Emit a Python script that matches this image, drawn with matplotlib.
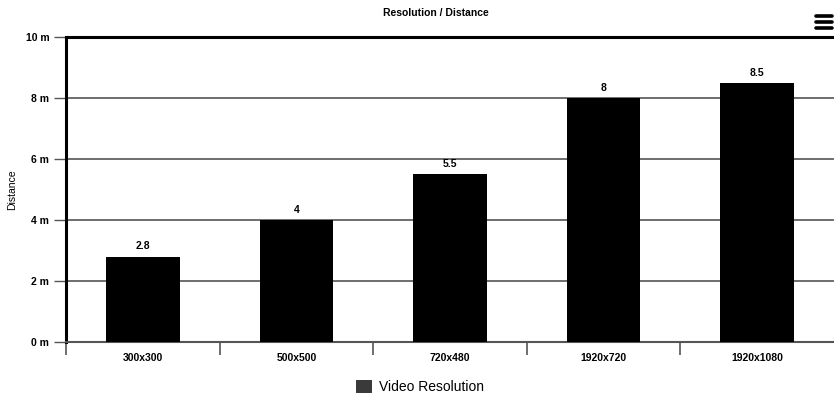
"""bar chart of viewing distance per video resolution"""

import matplotlib
matplotlib.use('Agg')
import matplotlib.pyplot as plt
from matplotlib.lines import Line2D
from matplotlib.patches import Patch

resolutions = ['300x300', '500x500', '720x480', '1920x720', '1920x1080']
distances = [2.8, 4, 5.5, 8, 8.5]
y_ticks = [0, 2, 4, 6, 8, 10]

plt.rcParams['font.family'] = ['Liberation Sans', 'DejaVu Sans']

fig = plt.figure(figsize=(8.34, 3.95), dpi=100)
ax = fig.add_axes([66 / 834, 1 - 342 / 395, 768 / 834, 305 / 395])

positions = range(len(resolutions))
ax.bar(positions, distances, width=0.48, color='black', zorder=3)
for pos, val in zip(positions, distances):
    ax.text(pos, val + 0.17, f'{val:g}', ha='center', va='bottom',
            fontsize=7.5, fontweight='bold', zorder=4)

ax.set_xlim(-0.5, len(resolutions) - 0.5)
ax.set_ylim(0, 10)
ax.set_yticks(y_ticks)
ax.set_yticklabels([f'{t} m' for t in y_ticks], fontsize=7.5, fontweight='bold')
ax.yaxis.grid(True, color='#555555', linewidth=1.2, zorder=1)
ax.tick_params(axis='y', length=9, width=1, color='#555555', pad=3)

ax.set_xticks(list(positions))
ax.set_xticklabels(resolutions, fontsize=7.5, fontweight='bold')
ax.tick_params(axis='x', length=0, pad=8)
ax.set_xticks([i - 0.5 for i in range(len(resolutions))], minor=True)
ax.tick_params(axis='x', which='minor', length=9, width=1.2, color='#555555')

ax.spines['left'].set_linewidth(2.2)
ax.spines['top'].set_linewidth(2.2)
ax.spines['right'].set_visible(False)
ax.spines['bottom'].set_color('#555555')
ax.spines['bottom'].set_linewidth(1.5)

ax.set_ylabel('Distance', fontsize=7.5)
ax.yaxis.set_label_coords(-0.063, 0.5)
fig.text(436 / 834, 1 - 13 / 395, 'Resolution / Distance', ha='center',
         va='center', fontsize=7.5, fontweight='bold')

# hamburger menu icon, top right
for y_px in (16, 22, 28):
    y = 1 - y_px / 395
    fig.add_artist(Line2D([816 / 834, 832 / 834], [y, y], color='black',
                          linewidth=2.6, solid_capstyle='round'))

handle = Patch(facecolor='#3a3a3a', edgecolor='none')
fig.legend([handle], ['Video Resolution'], loc='center',
           bbox_to_anchor=(420 / 834, 1 - 387 / 395), frameon=False,
           fontsize=10, handlelength=1.1, handleheight=1.1, handletextpad=0.5)

fig.savefig('out.png', dpi=100)
